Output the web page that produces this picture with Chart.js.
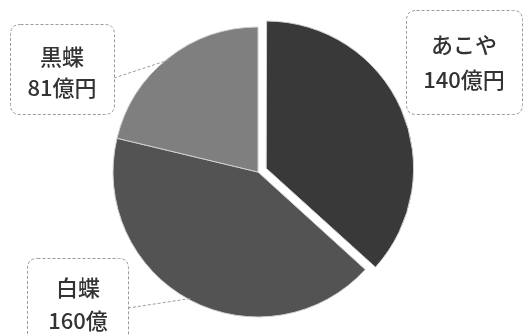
<!DOCTYPE html>
<html><head><meta charset="utf-8">
<script src="https://cdn.jsdelivr.net/npm/chart.js@4/dist/chart.umd.min.js"></script>
<style>html,body{margin:0;padding:0;background:#fff;}#wrap{width:524px;height:336px;position:relative;}</style>
</head><body><div id="wrap"><canvas id="c" width="524" height="336"></canvas></div>
<script>
const categories = ['あこや', '白蝶', '黒蝶'];
const values = [140, 160, 81];
const valueLabels = ['140億円', '160億', '81億円'];
const colors = ['#393939', '#535353', '#7f7f7f'];

const boxes = [
  {x: 406, y: 10, w: 116, h: 104, cx: 464, l1: 45, l2: 80, lx: 406, ly: 95},
  {x: 27, y: 258, w: 101, h: 95, cx: 78, l1: 288, l2: 321, lx: 128, ly: 308},
  {x: 10, y: 24, w: 104, h: 90, cx: 62, l1: 57, l2: 88, lx: 114, ly: 78}
];

function rr(ctx, x, y, w, h, r) {
  ctx.beginPath();
  ctx.moveTo(x + r, y);
  ctx.lineTo(x + w - r, y);
  ctx.quadraticCurveTo(x + w, y, x + w, y + r);
  ctx.lineTo(x + w, y + h - r);
  ctx.quadraticCurveTo(x + w, y + h, x + w - r, y + h);
  ctx.lineTo(x + r, y + h);
  ctx.quadraticCurveTo(x, y + h, x, y + h - r);
  ctx.lineTo(x, y + r);
  ctx.quadraticCurveTo(x, y, x + r, y);
  ctx.closePath();
}

const labelPlugin = {
  id: 'labels',
  afterDatasetsDraw(chart) {
    const ctx = chart.ctx;
    const meta = chart.getDatasetMeta(0);
    ctx.save();
    meta.data.forEach((arc, i) => {
      const b = boxes[i];
      const mid = (arc.startAngle + arc.endAngle) / 2;
      const px = arc.x + Math.cos(mid) * (arc.outerRadius - 2);
      const py = arc.y + Math.sin(mid) * (arc.outerRadius - 2);
      ctx.setLineDash([3, 2]);
      ctx.strokeStyle = '#9a9a9a';
      ctx.lineWidth = 1;
      if (i !== 0) {
        ctx.beginPath();
        ctx.moveTo(b.lx, b.ly);
        ctx.lineTo(px, py);
        ctx.stroke();
      }
      rr(ctx, b.x + 0.5, b.y + 0.5, b.w, b.h, 10);
      ctx.fillStyle = '#ffffff';
      ctx.fill();
      ctx.stroke();
      ctx.setLineDash([]);
      ctx.fillStyle = '#333333';
      ctx.font = '500 22px "Noto Sans CJK JP"';
      ctx.textAlign = 'center';
      ctx.textBaseline = 'middle';
      ctx.fillText(categories[i], b.cx, b.l1);
      ctx.fillText(valueLabels[i], b.cx, b.l2);
    });
    ctx.restore();
  }
};

new Chart(document.getElementById('c'), {
  type: 'pie',
  data: {
    labels: categories,
    datasets: [{
      data: values,
      backgroundColor: colors,
      borderColor: '#d0d0d0',
      borderWidth: 1,
      offset: [36, 0, 0]
    }]
  },
  options: {
    responsive: false,
    animation: false,
    radius: 145,
    layout: {padding: {left: 0, right: 8, top: 8, bottom: 0}},
    plugins: {legend: {display: false}, tooltip: {enabled: false}}
  },
  plugins: [labelPlugin]
});
</script>
</body></html>
